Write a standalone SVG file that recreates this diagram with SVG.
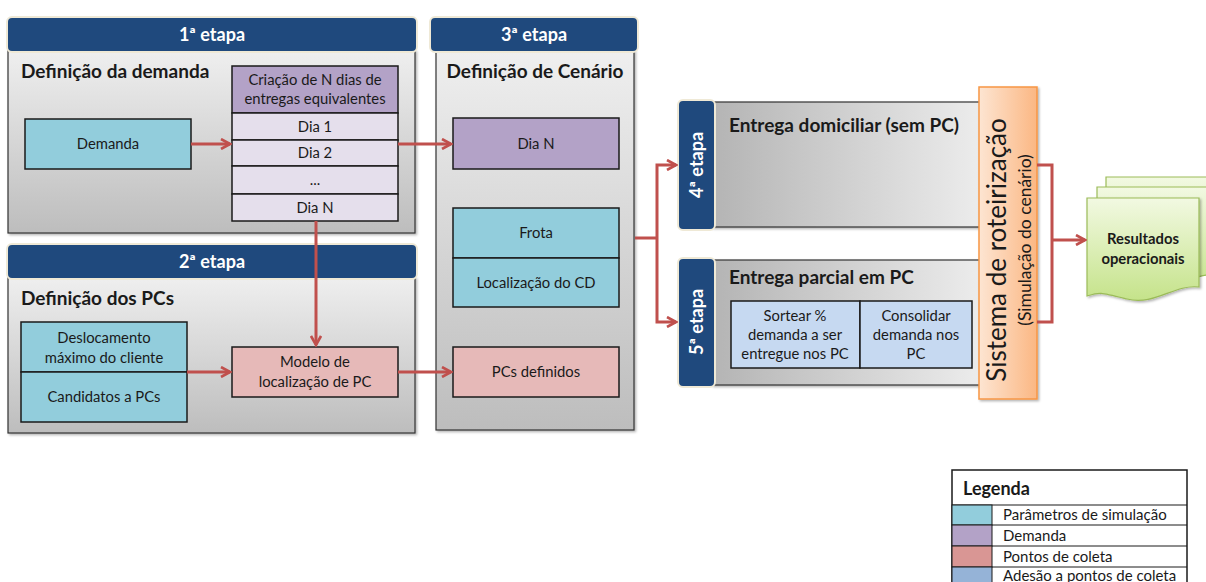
<svg xmlns="http://www.w3.org/2000/svg" width="1206" height="582" viewBox="0 0 1206 582">
<defs>
<linearGradient id="gv" x1="0" y1="0" x2="0" y2="1"><stop offset="0" stop-color="#efefef"/><stop offset="1" stop-color="#bdbdbd"/></linearGradient>
<linearGradient id="gh" x1="0" y1="0" x2="1" y2="0"><stop offset="0" stop-color="#b4b4b4"/><stop offset="1" stop-color="#ececec"/></linearGradient>
<linearGradient id="go" x1="0" y1="0" x2="1" y2="0"><stop offset="0" stop-color="#fde5d2"/><stop offset="1" stop-color="#fbb783"/></linearGradient>
<linearGradient id="gg" x1="0" y1="0" x2="0" y2="1"><stop offset="0" stop-color="#f2f9e2"/><stop offset="1" stop-color="#c5e38a"/></linearGradient>
<marker id="ah" viewBox="0 0 12 12" refX="10" refY="6" markerWidth="12" markerHeight="12" markerUnits="userSpaceOnUse" orient="auto"><path d="M1,1 L10,6 L1,11" fill="none" stroke="#c0504d" stroke-width="2.6"/></marker>
<filter id="sh" x="-5%" y="-5%" width="115%" height="115%"><feDropShadow dx="1.5" dy="1.5" stdDeviation="1.2" flood-color="#000" flood-opacity="0.3"/></filter>
</defs>
<style>
text{font-family:Lato,"Open Sans","Liberation Sans",sans-serif;fill:#1a1a1a}
.hdr{fill:#1f497d;stroke:#efe9d6;stroke-width:2}
.ht{fill:#fff;font-weight:bold;font-size:18px;text-anchor:middle}
.pnl{fill:url(#gv);stroke:#333;stroke-width:1.2}
.pnh{fill:url(#gh);stroke:#333;stroke-width:1.2}
.pt{font-weight:bold;font-size:19px}
.bx{stroke:#1a1a1a;stroke-width:1.5}
.cy{fill:#92cddc}.pu{fill:#b3a2c7}.lp{fill:#e5dfec}.pk{fill:#e6b9b8}.lb{fill:#c6d9f1}
.t{font-size:14.8px;text-anchor:middle}
.c{fill:none;stroke:#c0504d;stroke-width:3}
.lg{font-size:15px}
</style>

<g id="stage1">
<rect class="pnl" x="8" y="50" width="407" height="183" filter="url(#sh)"/>
<rect class="hdr" x="7" y="17" width="410" height="35" rx="5"/>
<text class="ht" x="212" y="41">1ª etapa</text>
<text class="pt" x="21" y="78">Definição da demanda</text>
</g>
<g id="demanda">
<rect class="bx cy" x="25" y="119" width="166" height="50"/>
<text class="t" x="108" y="149">Demanda</text>
</g>
<g id="criacao">
<rect class="bx pu" x="232" y="66" width="166" height="47"/>
<text class="t" x="315" y="85">Criação de N dias de</text>
<text class="t" x="315" y="104">entregas equivalentes</text>
<rect class="bx lp" x="232" y="113" width="166" height="27"/>
<text class="t" x="315" y="132">Dia 1</text>
<rect class="bx lp" x="232" y="140" width="166" height="26"/>
<text class="t" x="315" y="158">Dia 2</text>
<rect class="bx lp" x="232" y="166" width="166" height="28"/>
<text class="t" x="315" y="185">...</text>
<rect class="bx lp" x="232" y="194" width="166" height="27"/>
<text class="t" x="315" y="213">Dia N</text>
</g>

<g id="stage2">
<rect class="pnl" x="8" y="277" width="407" height="156" filter="url(#sh)"/>
<rect class="hdr" x="7" y="244" width="410" height="35" rx="5"/>
<text class="ht" x="212" y="268">2ª etapa</text>
<text class="pt" x="21" y="305">Definição dos PCs</text>
</g>
<g id="parametros-pc">
<rect class="bx cy" x="21" y="322" width="166" height="50"/>
<text class="t" x="104" y="343">Deslocamento</text>
<text class="t" x="104" y="363">máximo do cliente</text>
<rect class="bx cy" x="21" y="372" width="166" height="50"/>
<text class="t" x="104" y="402">Candidatos a PCs</text>
</g>
<g id="modelo">
<rect class="bx pk" x="232" y="347" width="166" height="50"/>
<text class="t" x="315" y="367">Modelo de</text>
<text class="t" x="315" y="387">localização de PC</text>
</g>

<g id="stage3">
<rect class="pnl" x="436" y="50" width="198" height="380" filter="url(#sh)"/>
<rect class="hdr" x="430" y="17" width="208" height="35" rx="5"/>
<text class="ht" x="534" y="41">3ª etapa</text>
<text class="pt" x="535" y="78" text-anchor="middle">Definição de Cenário</text>
</g>
<g id="dian">
<rect class="bx pu" x="453" y="118" width="166" height="51"/>
<text class="t" x="536" y="149">Dia N</text>
</g>
<g id="frota">
<rect class="bx cy" x="453" y="208" width="166" height="50"/>
<text class="t" x="536" y="238">Frota</text>
<rect class="bx cy" x="453" y="258" width="166" height="49"/>
<text class="t" x="536" y="288">Localização do CD</text>
</g>
<g id="pcs-definidos">
<rect class="bx pk" x="453" y="347" width="166" height="50"/>
<text class="t" x="536" y="377">PCs definidos</text>
</g>

<g id="stage4">
<rect class="pnh" x="712" y="102" width="268" height="125" filter="url(#sh)"/>
<rect class="hdr" x="678" y="100" width="37" height="130" rx="5"/>
<text class="ht" transform="translate(703,165) rotate(-90)">4ª etapa</text>
<text class="pt" x="729" y="132">Entrega domiciliar (sem PC)</text>
</g>
<g id="stage5">
<rect class="pnh" x="712" y="260" width="268" height="125" filter="url(#sh)"/>
<rect class="hdr" x="678" y="258" width="37" height="129" rx="5"/>
<text class="ht" transform="translate(703,322) rotate(-90)">5ª etapa</text>
<text class="pt" x="729" y="284">Entrega parcial em PC</text>
</g>
<g id="sortear">
<rect class="bx lb" x="731" y="301" width="129" height="67"/>
<text class="t" x="795" y="321">Sortear %</text>
<text class="t" x="795" y="340">demanda a ser</text>
<text class="t" x="795" y="359">entregue nos PC</text>
</g>
<g id="consolidar">
<rect class="bx lb" x="860" y="301" width="112" height="67"/>
<text class="t" x="916" y="321">Consolidar</text>
<text class="t" x="916" y="340">demanda nos</text>
<text class="t" x="916" y="359">PC</text>
</g>

<g id="sistema">
<rect x="979" y="87" width="58" height="312" fill="url(#go)" stroke="#f79646" stroke-width="1.5" filter="url(#sh)"/>
<text transform="translate(1006,250) rotate(-90)" text-anchor="middle" font-size="26">Sistema de roteirização</text>
<text transform="translate(1031,240) rotate(-90)" text-anchor="middle" font-size="17.5">(Simulação do cenário)</text>
</g>

<g id="resultados">
<path d="M1106,177 H1226 V265 C1200,262 1180,285 1150,278 S1120,272 1106,276 Z" fill="url(#gg)" stroke="#9bbb59" stroke-width="1.2"/>
<path d="M1097,187 H1217 V275 C1191,272 1171,295 1141,288 S1111,282 1097,286 Z" fill="url(#gg)" stroke="#9bbb59" stroke-width="1.2"/>
<path d="M1087,198 H1199 V287 C1174,284 1155,306 1127,299 S1100,292 1087,296 Z" fill="url(#gg)" stroke="#9bbb59" stroke-width="1.2" filter="url(#sh)"/>
<text x="1143" y="244" text-anchor="middle" font-size="14.8" font-weight="bold">Resultados</text>
<text x="1143" y="264" text-anchor="middle" font-size="14.8" font-weight="bold">operacionais</text>
</g>

<g id="connectors">
<path class="c" d="M191,144 H230" marker-end="url(#ah)"/>
<path class="c" d="M398,144 H451" marker-end="url(#ah)"/>
<path class="c" d="M316,221 V345" marker-end="url(#ah)"/>
<path class="c" d="M187,372 H230" marker-end="url(#ah)"/>
<path class="c" d="M398,372 H451" marker-end="url(#ah)"/>
<path class="c" d="M635,238 H657"/>
<path class="c" d="M657,238 V165 H676" marker-end="url(#ah)"/>
<path class="c" d="M657,238 V322 H676" marker-end="url(#ah)"/>
<path class="c" d="M1037,165 H1052 V322 H1037"/>
<path class="c" d="M1052,240 H1085" marker-end="url(#ah)"/>
</g>

<g id="legenda">
<rect x="952" y="470" width="235" height="120" fill="#fff" stroke="#1a1a1a" stroke-width="1.5"/>
<text x="963" y="495" font-size="18" font-weight="bold">Legenda</text>
<line x1="952" y1="505" x2="1187" y2="505" stroke="#1a1a1a" stroke-width="1.2"/>
<rect x="952" y="505" width="40" height="20" fill="#92cddc" stroke="#1a1a1a"/>
<rect x="952" y="525" width="40" height="21" fill="#b3a2c7" stroke="#1a1a1a"/>
<rect x="952" y="546" width="40" height="21" fill="#d99694" stroke="#1a1a1a"/>
<rect x="952" y="567" width="40" height="21" fill="#95b3d7" stroke="#1a1a1a"/>
<line x1="992" y1="525" x2="1187" y2="525" stroke="#1a1a1a"/>
<line x1="992" y1="546" x2="1187" y2="546" stroke="#1a1a1a"/>
<line x1="992" y1="567" x2="1187" y2="567" stroke="#1a1a1a"/>
<text class="lg" x="1003" y="520">Parâmetros de simulação</text>
<text class="lg" x="1003" y="541">Demanda</text>
<text class="lg" x="1003" y="562">Pontos de coleta</text>
<text class="lg" x="1003" y="581">Adesão a pontos de coleta</text>
</g>
</svg>
